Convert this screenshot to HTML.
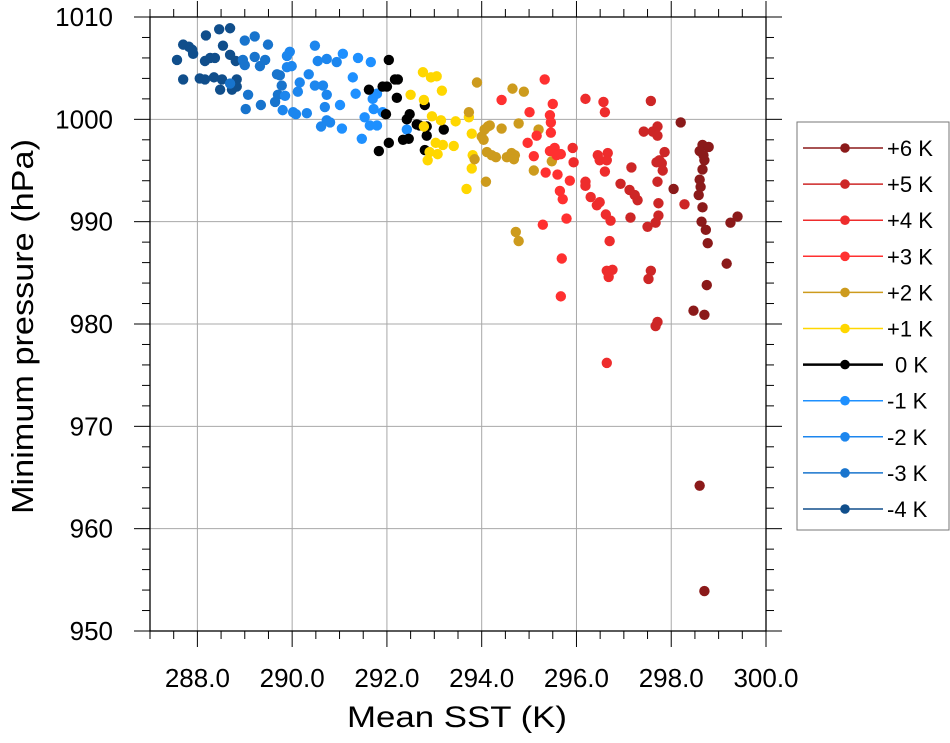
<!DOCTYPE html>
<html><head><meta charset="utf-8"><style>
html,body{margin:0;padding:0;background:#fff;}
svg{display:block;font-family:"Liberation Sans",Arial,sans-serif;}
</style></head><body>
<svg id="chart" width="950" height="743" viewBox="0 0 950 743" xmlns="http://www.w3.org/2000/svg"></svg>
<script>
const seriesLabels = ["+6 K","+5 K","+4 K","+3 K","+2 K","+1 K","0 K","-1 K","-2 K","-3 K","-4 K"];
const seriesColors = ["#8b1a1a","#cd2626","#ee2c2c","#ff3030","#cd9b1d","#ffd700","#000000","#1e90ff","#1c86ee","#1874cd","#104e8b"];
const xTicks = [288,290,292,294,296,298,300];
const xTickLabels = ["288.0","290.0","292.0","294.0","296.0","298.0","300.0"];
const yTicks = [950,960,970,980,990,1000,1010];
const yTickLabels = ["950","960","970","980","990","1000","1010"];

const sstM4 = [287.57,287.70,287.70,287.82,287.89,287.91,288.18,288.46,288.69,288.54,288.16,288.27,288.37,288.05,288.16,288.35,288.52,288.83,288.83,288.73,288.48,288.81,288.69];
const pM4 = [1005.8,1007.3,1003.9,1007.1,1006.8,1006.4,1008.2,1008.8,1008.9,1007.2,1005.7,1006.0,1006.0,1004.0,1003.9,1004.1,1003.9,1003.9,1003.2,1002.9,1002.9,1005.7,1006.3];
const sstM3 = [289.00,289.21,289.49,288.96,289.00,289.21,289.32,289.43,288.69,289.07,289.02,289.34,289.68,289.74,289.78,289.70,289.64];
const pM3 = [1007.7,1008.1,1007.3,1005.8,1005.3,1006.1,1005.2,1005.8,1003.5,1002.4,1001.0,1001.4,1004.4,1004.3,1003.3,1002.4,1001.7];
const sstM2 = [289.85,289.80,289.89,289.95,289.89,289.99,290.16,290.12,290.02,290.08,290.31,290.35,290.48,290.54,290.73,290.94,290.48,290.65,290.73,290.69,290.73,290.80,290.61];
const pM2 = [1002.3,1000.9,1006.2,1006.6,1005.1,1005.2,1003.6,1002.7,1000.7,1000.5,1000.6,1004.4,1007.2,1005.7,1005.9,1005.6,1003.3,1003.3,1002.4,1001.2,999.9,999.7,999.3];
const sstM1 = [291.01,291.05,291.07,291.28,291.34,291.39,291.66,291.70,291.72,291.53,291.64,291.79,291.47,292.42,291.79,291.91];
const pM1 = [1001.4,999.1,1006.4,1004.1,1002.5,1006.0,1005.6,1002.0,1001.0,1000.2,999.4,999.4,998.1,999.0,1002.5,1000.7];
const sst0 = [292.04,292.17,292.23,292.00,291.91,291.62,292.21,291.98,292.48,292.42,292.63,292.69,292.84,292.80,293.20,292.84,292.04,292.34,292.46,291.83,292.80];
const p0 = [1005.8,1003.9,1003.9,1003.2,1003.2,1002.9,1002.1,1000.5,1000.5,1000.0,999.5,999.4,999.3,1001.4,999.0,998.4,997.7,998.0,998.1,996.9,997.0];
const sstP1 = [292.76,292.93,293.05,293.16,292.50,292.78,292.95,293.14,293.45,292.78,293.03,293.18,293.41,292.90,293.07,292.86,293.73,293.79,293.81,293.79,293.68];
const pP1 = [1004.6,1004.1,1004.2,1002.8,1002.4,1001.9,1000.3,999.9,999.8,999.3,997.7,997.5,997.4,996.8,996.6,996.0,1000.2,998.6,996.5,995.2,993.2];
const sstP2 = [293.90,293.73,294.65,294.89,294.13,294.17,294.06,294.00,294.04,294.42,294.78,295.20,294.11,294.21,294.30,293.85,294.53,294.63,294.70,294.68,295.10,294.09,295.48,294.72,294.78];
const pP2 = [1003.6,1000.7,1003.0,1002.7,999.3,999.4,999.0,998.3,998.0,999.1,999.6,999.0,996.8,996.5,996.3,996.1,996.3,996.7,996.5,996.1,995.0,993.9,995.9,989.0,988.1];
const sstP3 = [295.33,294.42,295.01,295.50,295.44,295.46,295.46,295.16,294.97,295.10,295.44,295.54,295.58,295.67,295.35,295.60,295.86,295.65,295.71,295.79,295.29,295.69,295.67];
const pP3 = [1003.9,1001.9,1000.7,1001.5,1000.4,999.7,998.7,998.4,997.7,996.4,996.9,997.2,996.5,996.6,994.8,994.6,994.0,993.0,992.2,990.3,989.7,986.4,982.7];
const sstP4 = [295.92,295.94,296.19,296.19,296.30,296.49,296.43,296.19,296.57,296.60,296.45,296.66,296.49,296.64,296.60,296.62,296.72,296.70,296.64,296.76,296.68,296.64];
const pP4 = [997.2,995.8,993.9,993.5,992.4,991.9,991.6,1002.0,1001.7,1000.7,996.5,996.7,996.0,996.0,994.9,990.7,990.1,988.1,985.2,985.3,984.6,976.2];
const sstP5 = [297.16,296.93,297.12,297.23,297.29,297.73,297.57,297.42,297.61,297.71,297.71,297.86,297.75,297.69,297.80,297.82,297.71,298.28,297.14,297.50,297.67,297.73,297.57,297.52,297.71,297.67];
const pP5 = [995.3,993.7,993.1,992.6,992.1,991.8,1001.8,998.8,998.8,999.3,998.4,996.8,996.0,995.8,995.7,995.0,993.9,991.7,990.4,989.5,989.9,990.6,985.2,984.4,980.2,979.8];
const sstP6 = [298.20,298.05,298.66,298.79,298.60,298.68,298.70,298.66,298.60,298.62,298.58,298.66,298.64,298.73,298.77,299.25,299.40,299.17,298.75,298.47,298.70,298.60,298.70];
const pP6 = [999.7,993.2,997.5,997.3,996.9,996.5,996.0,995.1,994.1,993.4,992.6,991.4,990.0,989.2,987.9,989.9,990.5,985.9,983.8,981.3,980.9,964.2,953.9];

const NS = "http://www.w3.org/2000/svg";
const svg = document.getElementById('chart');
const L=150, R=766, T=17, B=631;
const xMin=287, xMax=300, yMin=950, yMax=1010;
function sx(v){return L+(v-xMin)/(xMax-xMin)*(R-L);}
function sy(v){return B-(v-yMin)/(yMax-yMin)*(B-T);}
function mk(tag, attrs){const e=document.createElementNS(NS,tag);for(const k in attrs)e.setAttribute(k,attrs[k]);svg.appendChild(e);return e;}

// grid
for(const t of xTicks){ if(t>xMin&&t<xMax){const g=mk('line',{x1:sx(t),x2:sx(t),y1:T,y2:B,stroke:'#a8a8a8','stroke-width':1});

}}
for(const t of yTicks){ if(t>yMin&&t<yMax){const g=mk('line',{x1:L,x2:R,y1:sy(t),y2:sy(t),stroke:'#a8a8a8','stroke-width':1});

}}

// points
const sstSets=[sstP6,sstP5,sstP4,sstP3,sstP2,sstP1,sst0,sstM1,sstM2,sstM3,sstM4];
const pSets=[pP6,pP5,pP4,pP3,pP2,pP1,p0,pM1,pM2,pM3,pM4];
const order=[10,9,8,7,6,5,4,3,2,1,0];
for(const si of order){
  const xs=sstSets[si], ys=pSets[si];
  for(let i=0;i<xs.length;i++){
    const c=mk('circle',{cx:sx(xs[i]),cy:sy(ys[i]),r:5.2,fill:seriesColors[si]});
    
    
  }
}

// frame
const fr=mk('rect',{x:L,y:T,width:R-L,height:B-T,fill:'none',stroke:'#000','stroke-width':1.3});



// ticks (outward, all sides)
for(let v=xMin;v<=xMax+1e-9;v+=0.5){
  const major=Math.abs(v/2-Math.round(v/2))<1e-9;
  const len=major?16:8;
  mk('line',{x1:sx(v),x2:sx(v),y1:B,y2:B+len,stroke:'#000','stroke-width':1});
  mk('line',{x1:sx(v),x2:sx(v),y1:T,y2:T-len,stroke:'#000','stroke-width':1});
}
for(let v=yMin;v<=yMax+1e-9;v+=2){
  const major=v%10===0;
  const len=major?16:8;
  mk('line',{x1:L,x2:L-len,y1:sy(v),y2:sy(v),stroke:'#000','stroke-width':1});
  mk('line',{x1:R,x2:R+len,y1:sy(v),y2:sy(v),stroke:'#000','stroke-width':1});
}
xTicks.forEach((t,i)=>{const e=mk('text',{x:sx(t),y:687,'text-anchor':'middle','font-size':26});e.textContent=xTickLabels[i];

});
yTicks.forEach((t,i)=>{const e=mk('text',{x:113,y:sy(t)+9,'text-anchor':'end','font-size':26});e.textContent=yTickLabels[i];

});

const xt=mk('text',{x:347,y:727,'font-size':30,textLength:220,lengthAdjust:'spacingAndGlyphs'});xt.textContent='Mean SST (K)';


const yt=mk('text',{x:-187,y:0,'font-size':31,textLength:375,lengthAdjust:'spacingAndGlyphs',transform:'translate(33,327) rotate(-90)'});yt.textContent='Minimum pressure (hPa)';



// legend
const lg=mk('rect',{x:797,y:122,width:152,height:408,fill:'#fff',stroke:'#777','stroke-width':1});


seriesLabels.forEach((lab,i)=>{
  const y=148+i*36.1;
  const ln=mk('line',{x1:803,x2:883,y1:y,y2:y,stroke:seriesColors[i],'stroke-width':i===6?2.5:1.5});
  
  
  const d=mk('circle',{cx:845,cy:y,r:4.8,fill:seriesColors[i]});
  
  
  const t=mk('text',{x:i===6?895:887,y:y+8,'font-size':22});t.textContent=lab;
  
  
});
</script>
</body></html>
